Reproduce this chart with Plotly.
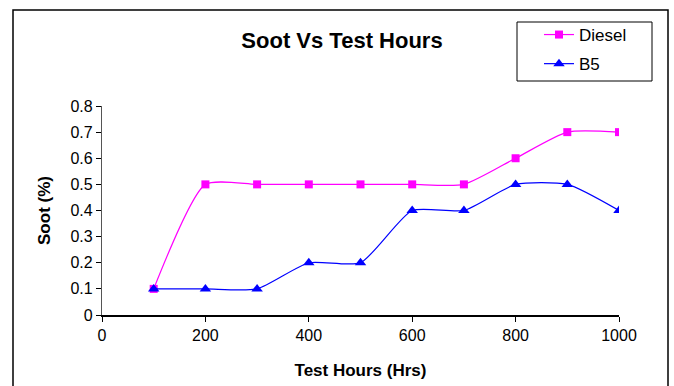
import plotly.graph_objects as go

hours = [100, 200, 300, 400, 500, 600, 700, 800, 900, 1000]
diesel = [0.1, 0.5, 0.5, 0.5, 0.5, 0.5, 0.5, 0.6, 0.7, 0.7]
b5 = [0.1, 0.1, 0.1, 0.2, 0.2, 0.4, 0.4, 0.5, 0.5, 0.4]
x_ticks = [0, 200, 400, 600, 800, 1000]
y_ticks = [0, 0.1, 0.2, 0.3, 0.4, 0.5, 0.6, 0.7, 0.8]

W, H = 674, 386
L, R, T, B = 102, 55, 106, 71
pw, ph = W - L - R, H - T - B

def px(x):
    return (x - L) / pw

def py(y):
    return (H - B - y) / ph

fig = go.Figure()
fig.add_trace(go.Scatter(
    x=hours, y=diesel, name="Diesel", mode="lines+markers", legendgroup="d",
    line=dict(color="#FF00FF", width=1.2, shape="spline", smoothing=0.6),
    marker=dict(symbol="square", size=8, color="#FF00FF"),
))
fig.add_trace(go.Scatter(
    x=hours, y=b5, name="B5", mode="lines+markers", legendgroup="b",
    line=dict(color="#0000FF", width=1.2, shape="spline", smoothing=0.6),
    marker=dict(symbol="triangle-up", size=10, color="#0000FF"),
))

font = "Arial, Liberation Sans, sans-serif"
fig.update_layout(
    width=W, height=H,
    margin=dict(l=L, r=R, t=T, b=B, autoexpand=False),
    paper_bgcolor="white", plot_bgcolor="white",
    font=dict(family=font, size=16, color="black"),
    title=dict(text="<b>Soot Vs Test Hours</b>", x=px(342), xref="paper",
               xanchor="center", y=1 - 40 / H, yanchor="middle",
               font=dict(size=22, family=font)),
    xaxis=dict(range=[0, 1000], tickvals=x_ticks, showgrid=False, zeroline=False,
               showline=True, linecolor="black", linewidth=1.5, automargin=False,
               ticks="outside", ticklen=5, tickcolor="black",
               title=dict(text="<b>Test Hours (Hrs)</b>", font=dict(size=17), standoff=21)),
    yaxis=dict(range=[0, 0.8], tickvals=y_ticks, showgrid=False, zeroline=False,
               showline=True, linecolor="#555555", linewidth=1.2, automargin=False,
               ticks="outside", ticklen=5, tickcolor="black",
               title=dict(text="<b>Soot (%)</b>", font=dict(size=17), standoff=15)),
    legend=dict(x=px(539), y=py(17), xanchor="left", yanchor="top",
                borderwidth=0, bgcolor="rgba(0,0,0,0)", traceorder="grouped",
                font=dict(size=17), tracegroupgap=4),
    showlegend=True,
    shapes=[
        dict(type="rect", xref="paper", yref="paper",
             x0=px(13), x1=px(668), y0=py(400), y1=py(10),
             line=dict(color="black", width=1.5), layer="below"),
        dict(type="rect", xref="paper", yref="paper",
             x0=px(517), x1=px(652), y0=py(81), y1=py(22),
             line=dict(color="black", width=1), layer="below"),
    ],
)

fig.write_html("out.html")
